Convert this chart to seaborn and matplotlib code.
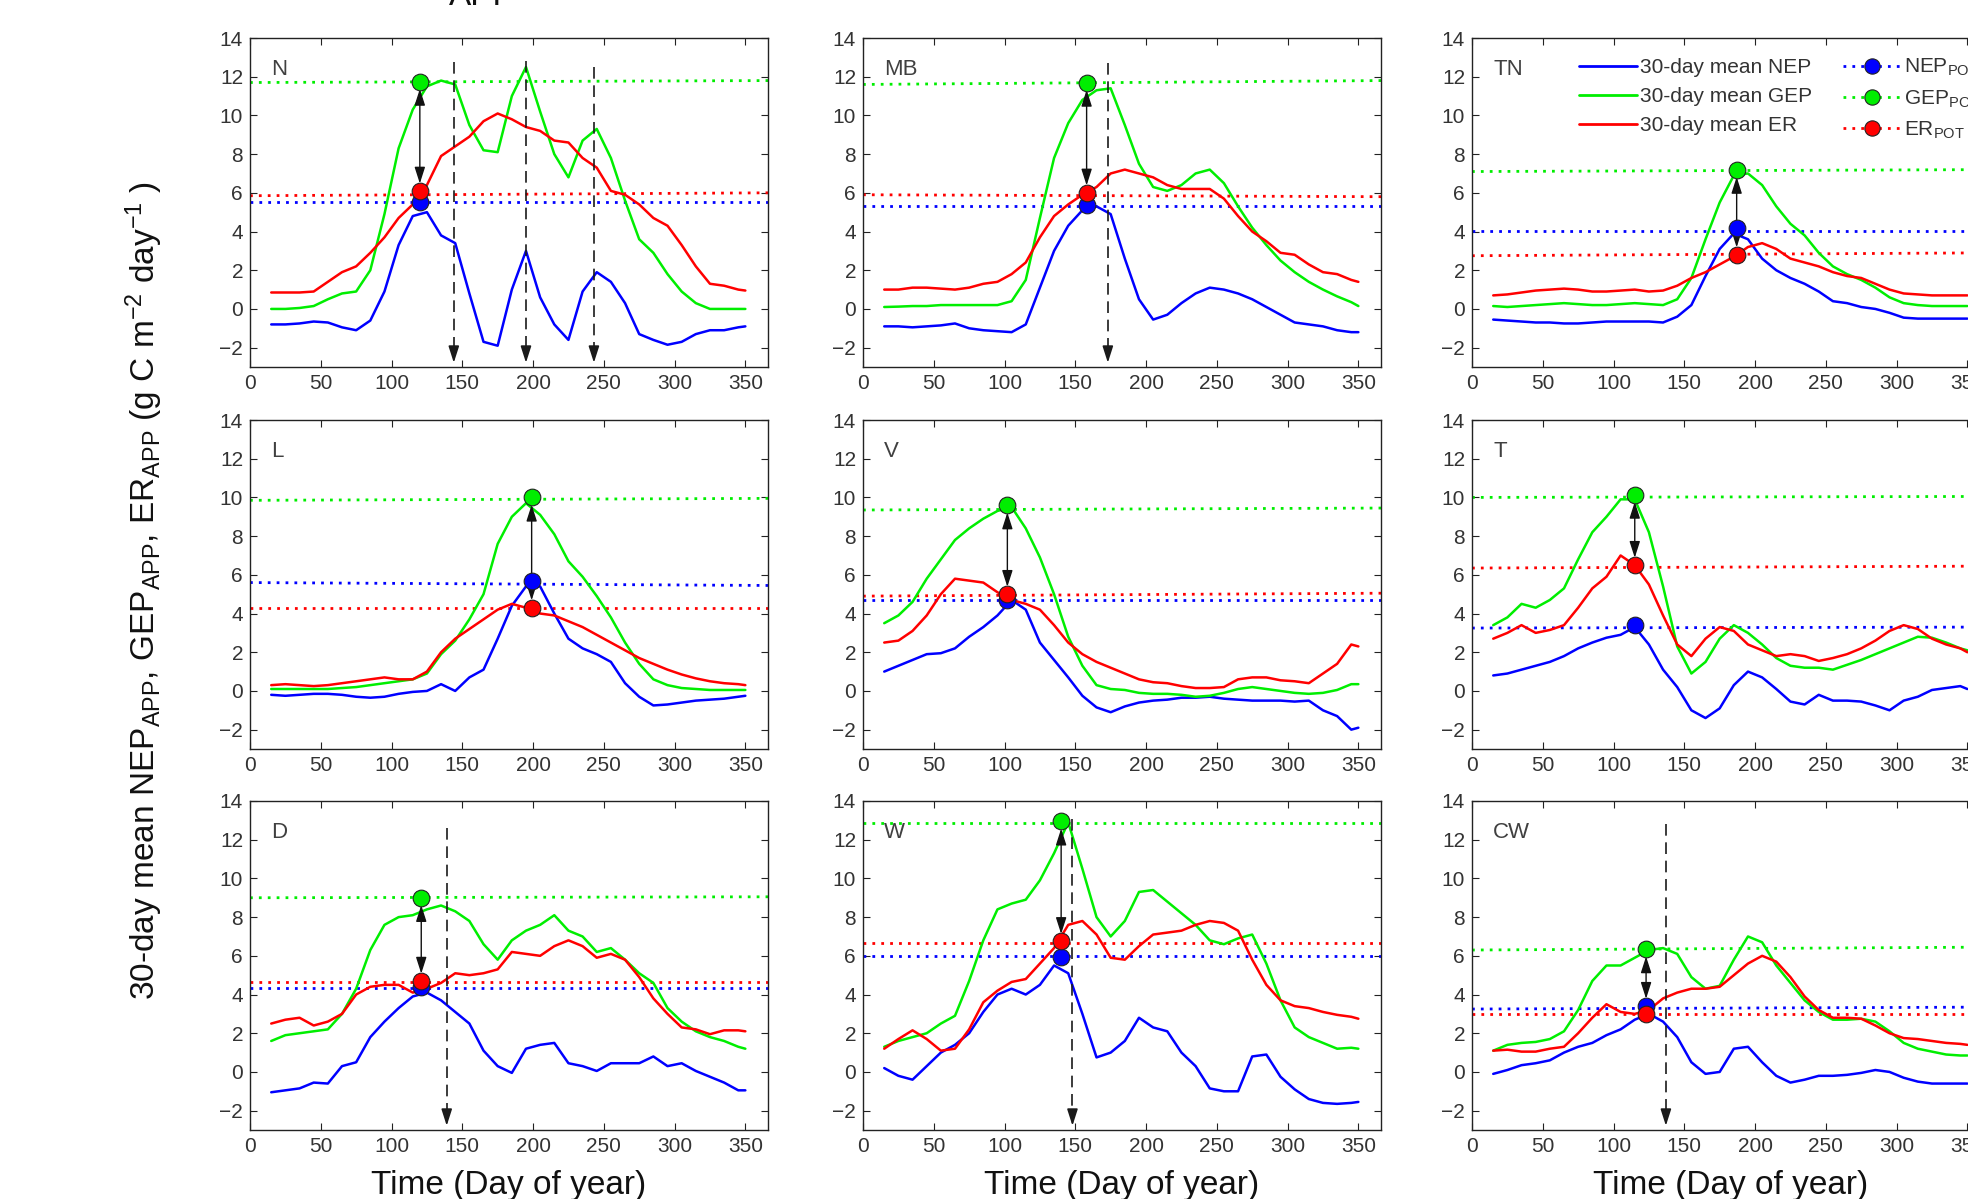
import numpy as np
import pandas as pd
import matplotlib
matplotlib.use("Agg")
import matplotlib.pyplot as plt
import seaborn as sns
from matplotlib.lines import Line2D

# ---------------- data ----------------
days = [15, 25, 35, 45, 55, 65, 75, 85, 95, 105, 115, 125, 135, 145, 155, 165, 175,
        185, 195, 205, 215, 225, 235, 245, 255, 265, 275, 285, 295, 305, 315, 325,
        335, 345, 350]

sites = ["N", "MB", "TN", "L", "V", "T", "D", "W", "CW"]

N_GEP = [0.0, 0.0, 0.05, 0.15, 0.5, 0.8, 0.9, 2.0, 4.9, 8.3, 10.3, 11.5, 11.8, 11.6, 9.5, 8.2, 8.1,
         11.0, 12.5, 10.2, 8.0, 6.8, 8.7, 9.3, 7.8, 5.6, 3.6, 2.9, 1.8, 0.9, 0.3, 0.0, 0.0, 0.0, 0.0]
N_ER = [0.85, 0.85, 0.85, 0.9, 1.4, 1.9, 2.2, 2.9, 3.7, 4.7, 5.4, 6.4, 7.9, 8.4, 8.9, 9.7, 10.1,
        9.8, 9.4, 9.2, 8.7, 8.6, 7.8, 7.3, 6.1, 5.9, 5.4, 4.7, 4.3, 3.3, 2.2, 1.3, 1.2, 1.0, 0.95]
N_NEP = [-0.8, -0.8, -0.75, -0.65, -0.7, -0.95, -1.1, -0.6, 0.9, 3.3, 4.8, 5.0, 3.8, 3.4, 0.8, -1.7, -1.9,
         1.0, 3.0, 0.6, -0.8, -1.6, 0.9, 1.9, 1.4, 0.3, -1.3, -1.6, -1.85, -1.7, -1.3, -1.1, -1.1, -0.95, -0.9]

MB_GEP = [0.1, 0.12, 0.15, 0.15, 0.2, 0.2, 0.2, 0.2, 0.2, 0.4, 1.5, 4.7, 7.8, 9.6, 10.8, 11.3, 11.4,
          9.5, 7.5, 6.3, 6.1, 6.4, 7.0, 7.2, 6.5, 5.3, 4.2, 3.3, 2.5, 1.9, 1.4, 1.0, 0.65, 0.35, 0.15]
MB_ER = [1.0, 1.0, 1.1, 1.1, 1.05, 1.0, 1.1, 1.3, 1.4, 1.8, 2.4, 3.7, 4.8, 5.4, 5.9, 6.3, 7.0,
         7.2, 7.0, 6.8, 6.4, 6.2, 6.2, 6.2, 5.7, 4.8, 4.0, 3.5, 2.9, 2.8, 2.3, 1.9, 1.8, 1.5, 1.4]
MB_NEP = [-0.9, -0.9, -0.95, -0.9, -0.85, -0.75, -1.0, -1.1, -1.15, -1.2, -0.8, 1.1, 3.0, 4.3, 5.1, 5.3, 4.9,
          2.6, 0.5, -0.55, -0.3, 0.3, 0.8, 1.1, 1.0, 0.8, 0.5, 0.1, -0.3, -0.7, -0.8, -0.9, -1.1, -1.2, -1.2]

TN_GEP = [0.15, 0.1, 0.15, 0.2, 0.25, 0.3, 0.25, 0.2, 0.2, 0.25, 0.3, 0.25, 0.2, 0.5, 1.6, 3.6, 5.5,
          6.9, 7.0, 6.4, 5.3, 4.4, 3.8, 2.9, 2.2, 1.8, 1.5, 1.1, 0.6, 0.3, 0.2, 0.15, 0.15, 0.15, 0.15]
TN_ER = [0.7, 0.75, 0.85, 0.95, 1.0, 1.05, 1.0, 0.9, 0.9, 0.95, 1.0, 0.9, 0.95, 1.2, 1.6, 1.9, 2.3,
         2.7, 3.2, 3.4, 3.1, 2.6, 2.4, 2.2, 1.9, 1.7, 1.6, 1.3, 1.0, 0.8, 0.75, 0.7, 0.7, 0.7, 0.7]
TN_NEP = [-0.55, -0.6, -0.65, -0.7, -0.7, -0.75, -0.75, -0.7, -0.65, -0.65, -0.65, -0.65, -0.7, -0.4, 0.2, 1.7, 3.1,
          3.9, 3.6, 2.6, 2.0, 1.6, 1.3, 0.9, 0.4, 0.3, 0.1, 0.0, -0.2, -0.45, -0.5, -0.5, -0.5, -0.5, -0.5]

L_GEP = [0.1, 0.1, 0.1, 0.1, 0.1, 0.15, 0.2, 0.3, 0.4, 0.5, 0.6, 0.9, 1.9, 2.6, 3.7, 5.0, 7.6,
         9.0, 9.7, 9.1, 8.1, 6.7, 5.9, 4.9, 3.8, 2.5, 1.4, 0.6, 0.3, 0.15, 0.1, 0.05, 0.05, 0.05, 0.05]
L_ER = [0.3, 0.35, 0.3, 0.25, 0.3, 0.4, 0.5, 0.6, 0.7, 0.6, 0.6, 1.0, 2.0, 2.7, 3.2, 3.7, 4.2,
        4.5, 4.3, 4.0, 3.9, 3.6, 3.3, 2.9, 2.5, 2.1, 1.7, 1.4, 1.1, 0.85, 0.65, 0.5, 0.4, 0.35, 0.3]
L_NEP = [-0.2, -0.25, -0.2, -0.15, -0.15, -0.2, -0.3, -0.35, -0.3, -0.15, -0.05, 0.0, 0.35, 0.0, 0.7, 1.1, 2.7,
         4.4, 5.4, 5.4, 4.0, 2.7, 2.2, 1.9, 1.5, 0.4, -0.3, -0.75, -0.7, -0.6, -0.5, -0.45, -0.4, -0.3, -0.25]

V_GEP = [3.5, 3.9, 4.6, 5.8, 6.8, 7.8, 8.4, 8.9, 9.3, 9.5, 8.4, 6.9, 5.0, 2.8, 1.3, 0.3, 0.1,
         0.05, -0.1, -0.15, -0.15, -0.2, -0.3, -0.25, -0.1, 0.1, 0.2, 0.1, 0.0, -0.1, -0.15, -0.1, 0.05, 0.35, 0.35]
V_ER = [2.5, 2.6, 3.1, 3.9, 5.0, 5.8, 5.7, 5.6, 5.1, 4.7, 4.5, 4.2, 3.4, 2.5, 1.9, 1.5, 1.2,
        0.9, 0.6, 0.45, 0.4, 0.25, 0.15, 0.15, 0.2, 0.6, 0.7, 0.7, 0.55, 0.5, 0.4, 0.9, 1.4, 2.4, 2.3]
V_NEP = [1.0, 1.3, 1.6, 1.9, 1.95, 2.2, 2.8, 3.3, 3.9, 4.7, 4.2, 2.5, 1.6, 0.7, -0.25, -0.85, -1.1,
         -0.8, -0.6, -0.5, -0.45, -0.35, -0.35, -0.3, -0.4, -0.45, -0.5, -0.5, -0.5, -0.55, -0.5, -1.0, -1.3, -2.0, -1.9]

T_GEP = [3.4, 3.8, 4.5, 4.3, 4.7, 5.3, 6.8, 8.2, 9.0, 9.9, 9.9, 8.2, 5.4, 2.3, 0.9, 1.5, 2.7,
         3.4, 3.0, 2.4, 1.7, 1.3, 1.2, 1.2, 1.1, 1.35, 1.6, 1.9, 2.2, 2.5, 2.8, 2.75, 2.5, 2.2, 2.1]
T_ER = [2.7, 3.0, 3.4, 3.0, 3.15, 3.4, 4.3, 5.3, 5.9, 7.0, 6.5, 5.5, 3.9, 2.4, 1.8, 2.7, 3.3,
        3.1, 2.4, 2.1, 1.8, 1.9, 1.8, 1.55, 1.7, 1.9, 2.2, 2.6, 3.1, 3.4, 3.2, 2.7, 2.4, 2.2, 2.0]
T_NEP = [0.8, 0.9, 1.1, 1.3, 1.5, 1.8, 2.2, 2.5, 2.75, 2.9, 3.3, 2.4, 1.1, 0.2, -1.0, -1.4, -0.9,
         0.3, 1.0, 0.7, 0.1, -0.55, -0.7, -0.2, -0.5, -0.5, -0.55, -0.75, -1.0, -0.5, -0.3, 0.05, 0.15, 0.25, 0.1]

D_GEP = [1.6, 1.9, 2.0, 2.1, 2.2, 3.0, 4.3, 6.3, 7.6, 8.0, 8.1, 8.4, 8.6, 8.3, 7.8, 6.6, 5.8,
         6.8, 7.3, 7.6, 8.1, 7.3, 7.0, 6.2, 6.4, 5.8, 5.1, 4.6, 3.3, 2.6, 2.1, 1.8, 1.6, 1.3, 1.2]
D_ER = [2.5, 2.7, 2.8, 2.4, 2.6, 3.0, 4.0, 4.4, 4.5, 4.5, 4.1, 4.3, 4.6, 5.1, 5.0, 5.1, 5.3,
        6.2, 6.1, 6.0, 6.5, 6.8, 6.5, 5.9, 6.1, 5.8, 4.9, 3.8, 3.0, 2.3, 2.2, 1.95, 2.15, 2.15, 2.1]
D_NEP = [-1.05, -0.95, -0.85, -0.55, -0.6, 0.3, 0.5, 1.8, 2.6, 3.3, 3.9, 4.1, 3.7, 3.1, 2.5, 1.1, 0.3,
         -0.05, 1.2, 1.4, 1.5, 0.45, 0.3, 0.05, 0.45, 0.45, 0.45, 0.8, 0.3, 0.45, 0.05, -0.25, -0.55, -0.95, -0.95]

W_GEP = [1.3, 1.6, 1.8, 2.0, 2.5, 2.9, 4.7, 6.8, 8.4, 8.7, 8.9, 9.9, 11.3, 12.9, 10.5, 8.0, 7.0,
         7.8, 9.3, 9.4, 8.8, 8.2, 7.6, 6.8, 6.6, 6.9, 7.1, 5.6, 3.7, 2.3, 1.8, 1.5, 1.2, 1.25, 1.2]
W_ER = [1.2, 1.7, 2.15, 1.7, 1.1, 1.2, 2.2, 3.6, 4.2, 4.65, 4.8, 5.6, 6.4, 7.6, 7.8, 7.1, 5.9,
        5.8, 6.5, 7.1, 7.2, 7.3, 7.6, 7.8, 7.7, 7.3, 5.8, 4.5, 3.7, 3.4, 3.3, 3.1, 2.95, 2.85, 2.75]
W_NEP = [0.2, -0.2, -0.4, 0.3, 1.0, 1.4, 2.0, 3.1, 4.0, 4.3, 4.0, 4.5, 5.5, 5.1, 3.0, 0.75, 1.0,
         1.6, 2.8, 2.3, 2.1, 1.0, 0.3, -0.85, -1.0, -1.0, 0.8, 0.9, -0.25, -0.9, -1.4, -1.6, -1.65, -1.6, -1.55]

CW_GEP = [1.1, 1.4, 1.5, 1.55, 1.7, 2.1, 3.2, 4.7, 5.5, 5.5, 5.9, 6.3, 6.4, 6.1, 4.9, 4.3, 4.45,
          5.8, 7.0, 6.7, 5.5, 4.6, 3.7, 3.1, 2.7, 2.7, 2.75, 2.6, 2.1, 1.5, 1.2, 1.05, 0.9, 0.85, 0.85]
CW_ER = [1.1, 1.15, 1.05, 1.05, 1.2, 1.3, 2.0, 2.8, 3.5, 3.1, 3.0, 3.2, 3.8, 4.1, 4.3, 4.3, 4.4,
         5.0, 5.6, 6.0, 5.7, 4.9, 3.9, 3.2, 2.8, 2.8, 2.75, 2.4, 2.0, 1.75, 1.7, 1.6, 1.5, 1.45, 1.4]
CW_NEP = [-0.1, 0.1, 0.35, 0.45, 0.6, 1.0, 1.3, 1.5, 1.9, 2.2, 2.7, 3.0, 2.6, 1.8, 0.5, -0.1, 0.0,
          1.2, 1.3, 0.5, -0.2, -0.55, -0.4, -0.2, -0.2, -0.15, -0.05, 0.1, 0.0, -0.3, -0.5, -0.6, -0.6, -0.6, -0.6]

# potential (POT) levels: value at start and end of the year, per site
gep_pot_start = [11.7, 11.6, 7.1, 9.85, 9.35, 10.0, 9.0, 12.85, 6.3]
gep_pot_end = [11.8, 11.8, 7.2, 9.95, 9.45, 10.05, 9.05, 12.85, 6.45]
er_pot_start = [5.85, 5.9, 2.75, 4.3, 4.9, 6.35, 4.65, 6.65, 3.0]
er_pot_end = [6.0, 5.8, 2.9, 4.3, 5.05, 6.45, 4.65, 6.65, 3.0]
nep_pot_start = [5.55, 5.3, 4.05, 5.6, 4.7, 3.25, 4.35, 6.0, 3.25]
nep_pot_end = [5.55, 5.3, 4.05, 5.45, 4.7, 3.3, 4.35, 6.0, 3.35]

# POT markers
marker_day = [120, 158, 187, 199, 102, 115, 121, 140, 123]
gep_mark = [11.75, 11.7, 7.2, 10.0, 9.6, 10.15, 9.0, 12.95, 6.35]
er_mark = [6.1, 6.0, 2.8, 4.3, 5.0, 6.5, 4.7, 6.75, 3.0]
nep_mark = [5.55, 5.35, 4.2, 5.7, 4.7, 3.4, 4.4, 5.95, 3.4]
arrow_target = ["ER", "ER", "ER", "ER", "ER", "ER", "ER", "ER", "NEP"]

# dashed vertical markers (day, top value)
dash_days = {"N": [144, 195, 243], "MB": [173], "D": [139], "W": [148], "CW": [137]}
dash_tops = {"N": [12.75, 12.8, 12.5], "MB": [12.7], "D": [12.6], "W": [13.05], "CW": [12.8]}

xticks = [0, 50, 100, 150, 200, 250, 300, 350]
yticks = [-2, 0, 2, 4, 6, 8, 10, 12, 14]

series = {
    "N": (N_NEP, N_GEP, N_ER), "MB": (MB_NEP, MB_GEP, MB_ER), "TN": (TN_NEP, TN_GEP, TN_ER),
    "L": (L_NEP, L_GEP, L_ER), "V": (V_NEP, V_GEP, V_ER), "T": (T_NEP, T_GEP, T_ER),
    "D": (D_NEP, D_GEP, D_ER), "W": (W_NEP, W_GEP, W_ER), "CW": (CW_NEP, CW_GEP, CW_ER),
}

# ---------------- style ----------------
sns.set_theme(style="ticks")
plt.rcParams["font.family"] = ["Liberation Sans", "DejaVu Sans"]
plt.rcParams["mathtext.fontset"] = "custom"
plt.rcParams["mathtext.rm"] = "Liberation Sans"
plt.rcParams["mathtext.it"] = "Liberation Sans:italic"
plt.rcParams["mathtext.bf"] = "Liberation Sans:bold"

BLUE, GREEN, RED = "#0000ff", "#00ee00", "#ff0000"
palette = {"NEP": BLUE, "GEP": GREEN, "ER": RED}
TXT = "#333333"

W, H = 1968, 1199
fig = plt.figure(figsize=(W / 100, H / 100), dpi=100)

col_left = [250, 863, 1472]
ax_w = 518
row_top = [38, 420, 801]
ax_h = 329

dotted = (0, (1, 2.2))
MS = 12

for i, site in enumerate(sites):
    r, c = divmod(i, 3)
    ax = fig.add_axes([col_left[c] / W, 1 - (row_top[r] + ax_h) / H, ax_w / W, ax_h / H])
    nep, gep, er = series[site]
    df = pd.DataFrame({
        "day": days * 3,
        "value": list(nep) + list(gep) + list(er),
        "flux": ["NEP"] * len(days) + ["GEP"] * len(days) + ["ER"] * len(days),
    })
    # POT dotted lines
    ax.plot([0, 366], [gep_pot_start[i], gep_pot_end[i]], ls=dotted, color=GREEN, lw=2.0, zorder=1)
    ax.plot([0, 366], [er_pot_start[i], er_pot_end[i]], ls=dotted, color=RED, lw=2.0, zorder=1)
    ax.plot([0, 366], [nep_pot_start[i], nep_pot_end[i]], ls=dotted, color=BLUE, lw=2.0, zorder=1)

    sns.lineplot(data=df, x="day", y="value", hue="flux", palette=palette,
                 hue_order=["NEP", "GEP", "ER"], ax=ax, legend=False,
                 linewidth=1.8, estimator=None, sort=False, zorder=2)

    # dashed vertical lines with arrowheads
    for d, top in zip(dash_days.get(site, []), dash_tops.get(site, [])):
        ax.plot([d, d], [top, -2.1], ls=(0, (7, 4)), color="#1a1a1a", lw=1.2, zorder=3)
        ax.annotate("", xy=(d, -2.78), xytext=(d, -2.05),
                    arrowprops=dict(arrowstyle="-|>,head_length=0.5,head_width=0.16",
                                    color="#1a1a1a", lw=1.2, shrinkA=0, shrinkB=0,
                                    mutation_scale=20), zorder=3)

    # double arrow from GEP_POT marker to ER/NEP marker
    md = marker_day[i]
    end = er_mark[i] if arrow_target[i] == "ER" else nep_mark[i]
    ax.annotate("", xy=(md, gep_mark[i] - 0.38), xytext=(md, end + 0.38),
                arrowprops=dict(arrowstyle="<|-|>,head_length=0.5,head_width=0.16",
                                color="#111111", lw=1.0, shrinkA=0, shrinkB=0,
                                mutation_scale=20), zorder=4)

    # POT markers
    ax.plot([md], [nep_mark[i]], "o", ms=MS, mfc=BLUE, mec="#222222", mew=0.8, zorder=5)
    ax.plot([md], [gep_mark[i]], "o", ms=MS, mfc=GREEN, mec="#222222", mew=0.8, zorder=5)
    ax.plot([md], [er_mark[i]], "o", ms=MS, mfc=RED, mec="#222222", mew=0.8, zorder=6)

    ax.text(15, 12.07, site, fontsize=16, color="#404040", va="baseline", ha="left")

    ax.set_xlim(0, 366)
    ax.set_ylim(-3, 14)
    ax.set_xticks(xticks)
    ax.set_yticks(yticks)
    ax.set_xlabel("")
    ax.set_ylabel("")
    ax.tick_params(direction="in", length=5, width=0.8, top=True, right=True,
                   labelsize=15, labelcolor=TXT, color="#222222", pad=5)
    for sp in ax.spines.values():
        sp.set_visible(True)
        sp.set_linewidth(1.0)
        sp.set_color("#222222")

    if site == "TN":
        handles = [
            Line2D([], [], color=BLUE, lw=2),
            Line2D([], [], color=GREEN, lw=2),
            Line2D([], [], color=RED, lw=2),
            Line2D([], [], color=BLUE, lw=2, ls=dotted, marker="o", ms=11, mfc=BLUE, mec="#222222", mew=0.8),
            Line2D([], [], color=GREEN, lw=2, ls=dotted, marker="o", ms=11, mfc=GREEN, mec="#222222", mew=0.8),
            Line2D([], [], color=RED, lw=2, ls=dotted, marker="o", ms=11, mfc=RED, mec="#222222", mew=0.8),
        ]
        labels = ["30-day mean NEP", "30-day mean GEP", "30-day mean ER",
                  r"NEP$_{\mathrm{POT}}$", r"GEP$_{\mathrm{POT}}$", r"ER$_{\mathrm{POT}}$"]
        leg = ax.legend(handles, labels, ncol=2, loc="upper left",
                        bbox_to_anchor=(1579 / W, 1 - 57 / H), bbox_transform=fig.transFigure,
                        frameon=False, fontsize=15, handlelength=2.8, handletextpad=0.15,
                        columnspacing=1.45, labelspacing=0.48, borderpad=0, borderaxespad=0,
                        numpoints=1)
        for t in leg.get_texts():
            t.set_color(TXT)

# axis labels
fig.text(144 / W, 1 - 590 / H,
         r"30-day mean NEP$_{\mathrm{APP}}$, GEP$_{\mathrm{APP}}$, ER$_{\mathrm{APP}}$ (g C m$^{-2}$ day$^{-1}$ )",
         rotation=90, ha="center", va="center", fontsize=24, color="#111111")
for c in range(3):
    cx = (col_left[c] + ax_w / 2) / W
    fig.text(cx, 1 - 1170 / H, "Time (Day of year)", ha="center", va="top",
             fontsize=24, color="#111111")

# clipped title fragment at the top edge
fig.text(482 / W, 1 - 5 / H, "APP", ha="center", va="baseline", fontsize=24, color="#111111")

fig.savefig("out.png", dpi=100)
